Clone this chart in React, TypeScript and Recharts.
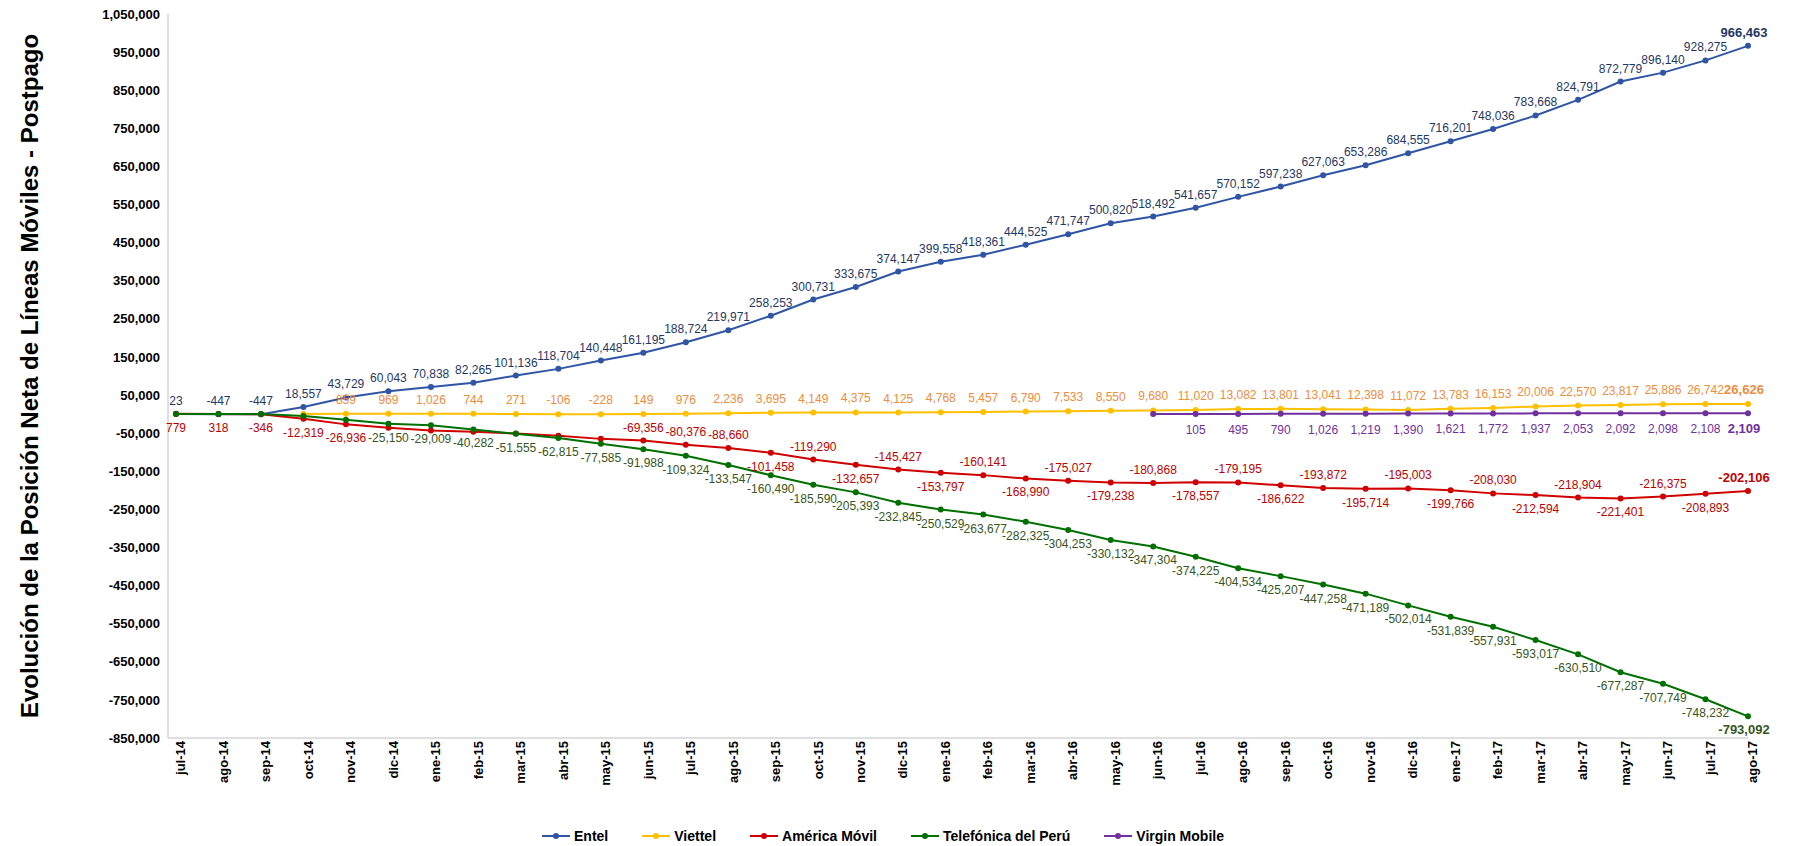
import React from "react";
import { LineChart, Line, XAxis, YAxis, Legend, LabelList } from "recharts";

const months = [
  "jul-14","ago-14","sep-14","oct-14","nov-14","dic-14","ene-15","feb-15","mar-15","abr-15","may-15","jun-15",
  "jul-15","ago-15","sep-15","oct-15","nov-15","dic-15","ene-16","feb-16","mar-16","abr-16","may-16","jun-16",
  "jul-16","ago-16","sep-16","oct-16","nov-16","dic-16","ene-17","feb-17","mar-17","abr-17","may-17","jun-17",
  "jul-17","ago-17",
];

const entel = [
  23,-447,-447,18557,43729,60043,70838,82265,101136,118704,140448,161195,188724,219971,258253,300731,333675,
  374147,399558,418361,444525,471747,500820,518492,541657,570152,597238,627063,653286,684555,716201,748036,
  783668,824791,872779,896140,928275,966463,
];

const viettel = [
  null,null,null,0,859,969,1026,744,271,-106,-228,149,976,2236,3695,4149,4375,4125,4768,5457,6790,7533,8550,
  9680,11020,13082,13801,13041,12398,11072,13783,16153,20006,22570,23817,25886,26742,26626,
];

// dic-14 .. may-15 are estimated (no label in the reference)
const americaMovil = [
  779,318,-346,-12319,-26936,-36000,-43000,-46000,-51000,-57000,-65000,-69356,-80376,-88660,-101458,-119290,
  -132657,-145427,-153797,-160141,-168990,-175027,-179238,-180868,-178557,-179195,-186622,-193872,-195714,
  -195003,-199766,-208030,-212594,-218904,-221401,-216375,-208893,-202106,
];
const americaUnlabeled = [5, 6, 7, 8, 9, 10];

const telefonica = [
  0,0,0,-5000,-15000,-25150,-29009,-40282,-51555,-62815,-77585,-91988,-109324,-133547,-160490,-185590,-205393,
  -232845,-250529,-263677,-282325,-304253,-330132,-347304,-374225,-404534,-425207,-447258,-471189,-502014,
  -531839,-557931,-593017,-630510,-677287,-707749,-748232,-793092,
];
const telefonicaUnlabeled = [0, 1, 2, 3, 4];

const virgin = [
  null,null,null,null,null,null,null,null,null,null,null,null,null,null,null,null,null,null,null,null,null,null,
  null,0,105,495,790,1026,1219,1390,1621,1772,1937,2053,2092,2098,2108,2109,
];

const yTicks = [1050000,950000,850000,750000,650000,550000,450000,350000,250000,150000,50000,-50000,-150000,
  -250000,-350000,-450000,-550000,-650000,-750000,-850000];

const legendItems = [
  { name: "Entel", color: "#2F55A4" },
  { name: "Viettel", color: "#FFC000" },
  { name: "América Móvil", color: "#D00000" },
  { name: "Telefónica del Perú", color: "#007000" },
  { name: "Virgin Mobile", color: "#7030A0" },
];

const data = months.map((m, i) => ({
  month: m,
  entel: entel[i],
  viettel: viettel[i],
  america: americaMovil[i],
  telefonica: telefonica[i],
  virgin: virgin[i],
}));

const fmt = (v: number) => v.toLocaleString("en-US");

const makeLabel =
  (color: string, dyFn: (i: number) => number, skip: (i: number, v: number) => boolean = () => false) =>
  (props: any) => {
    const { x, y, value, index } = props;
    if (value === null || value === undefined) return null;
    if (skip(index, value)) return null;
    const last = index === months.length - 1;
    return (
      <text
        x={last ? x - 4 : x}
        y={y + dyFn(index)}
        textAnchor="middle"
        fill={color}
        fontSize={last ? 13 : 12}
        fontWeight={last ? 700 : 400}
        fontFamily="Liberation Sans, Arial, sans-serif"
      >
        {fmt(value)}
      </text>
    );
  };

const americaDy = (i: number) => {
  if (i >= 11 && i <= 13) return -9;
  if (i >= 14) return i % 2 === 1 ? -9 : 18;
  return 18;
};

const CustomLegend = () => (
  <div style={{ display: "flex", justifyContent: "center", gap: 34, fontSize: 14, fontWeight: 700, color: "#000" }}>
    {legendItems.map((it) => (
      <span key={it.name} style={{ display: "flex", alignItems: "center", gap: 4 }}>
        <svg width={28} height={10}>
          <line x1={0} y1={5} x2={28} y2={5} stroke={it.color} strokeWidth={2} />
          <circle cx={14} cy={5} r={3} fill={it.color} />
        </svg>
        {it.name}
      </span>
    ))}
  </div>
);

export default function App() {
  return (
    <div style={{ width: 1780, height: 840, fontFamily: "Liberation Sans, Arial, sans-serif" }}>
      <LineChart width={1780} height={840} data={data} margin={{ top: 6, right: 40, left: 10, bottom: 4 }}>
        <XAxis
          dataKey="month"
          interval={0}
          angle={-90}
          textAnchor="end"
          height={80}
          padding={{ left: 8, right: 0 }}
          tick={{ fontSize: 13, fontWeight: 700, fill: "#000", dy: -5 }}
          tickLine={false}
          stroke="#bfbfbf"
        />
        <YAxis
          domain={[-850000, 1050000]}
          ticks={yTicks}
          interval={0}
          tickFormatter={fmt}
          tick={{ fontSize: 13, fontWeight: 700, fill: "#000" }}
          tickLine={false}
          stroke="#bfbfbf"
          width={150}
          label={{
            value: "Evolución de la Posición Neta de Líneas Móviles - Postpago",
            angle: -90,
            position: "insideLeft",
            dx: 6,
            style: { fontSize: 24, fontWeight: 700, fill: "#000", textAnchor: "middle" },
          }}
        />
        <Legend verticalAlign="bottom" content={<CustomLegend />} wrapperStyle={{ paddingTop: 10 }} />
        <Line dataKey="entel" name="Entel" stroke="#2F55A4" strokeWidth={2} dot={{ r: 3, fill: "#2F55A4", strokeWidth: 0 }} isAnimationActive={false}>
          <LabelList dataKey="entel" content={makeLabel("#1F3864", () => -9)} />
        </Line>
        <Line dataKey="viettel" name="Viettel" stroke="#FFC000" strokeWidth={2} dot={{ r: 3, fill: "#FFC000", strokeWidth: 0 }} isAnimationActive={false}>
          <LabelList dataKey="viettel" content={makeLabel("#F08C3C", () => -10, (i) => i === 3)} />
        </Line>
        <Line dataKey="america" name="América Móvil" stroke="#D00000" strokeWidth={2} dot={{ r: 3, fill: "#D00000", strokeWidth: 0 }} isAnimationActive={false}>
          <LabelList dataKey="america" content={makeLabel("#C00000", americaDy, (i) => americaUnlabeled.includes(i))} />
        </Line>
        <Line dataKey="telefonica" name="Telefónica del Perú" stroke="#007000" strokeWidth={2} dot={{ r: 3, fill: "#007000", strokeWidth: 0 }} isAnimationActive={false}>
          <LabelList dataKey="telefonica" content={makeLabel("#375623", () => 18, (i) => telefonicaUnlabeled.includes(i))} />
        </Line>
        <Line dataKey="virgin" name="Virgin Mobile" stroke="#7030A0" strokeWidth={2} dot={{ r: 3, fill: "#7030A0", strokeWidth: 0 }} isAnimationActive={false}>
          <LabelList dataKey="virgin" content={makeLabel("#7030A0", () => 20, (_i, v) => v === 0)} />
        </Line>
      </LineChart>
    </div>
  );
}
